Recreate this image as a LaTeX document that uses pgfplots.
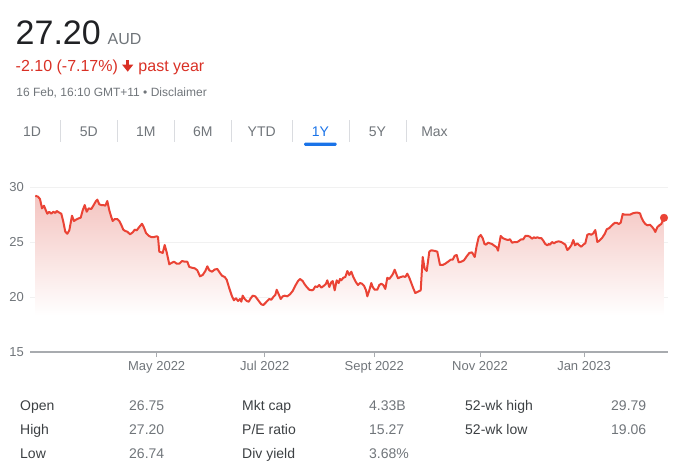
\documentclass[border=0pt]{standalone}
\usepackage{fontspec}
\setmainfont{Liberation Sans}
\usepackage{pgfplots}
\pgfplotsset{compat=1.18}
\usepackage{pgfplotstable}
\definecolor{darktext}{HTML}{202124}
\definecolor{labeltext}{HTML}{3C4043}
\definecolor{greytext}{HTML}{70757A}
\definecolor{redtext}{HTML}{D93025}
\definecolor{linered}{HTML}{EA4335}
\definecolor{fillred}{HTML}{F4C4C0}
\definecolor{tabblue}{HTML}{1A73E8}
\definecolor{sepgrey}{HTML}{DADCE0}
\definecolor{axisgrey}{HTML}{A8ABAF}
\definecolor{gridgrey}{HTML}{F1F1F1}

\pgfplotstableread{
x y
35.3 29.21
38 29.12
40 28.91
42 28.06
44 28.30
45.3 28.00
47.3 27.57
49.3 27.75
51.3 27.57
53.3 27.75
55.3 27.64
56.7 27.82
58.7 27.70
61.3 27.57
63.3 26.85
65.3 25.94
67.3 25.75
69.3 26.06
72 27.39
74 26.91
76 27.03
78.7 27.15
80.7 27.21
82.7 27.88
84.7 28.36
86.7 27.75
88.7 28.06
91.3 28.00
93.3 28.30
96 28.73
97.3 28.85
99.3 28.43
101.3 28.36
103.3 28.36
105.3 28.30
107.3 28.73
109.3 27.88
111.3 27.27
112.7 26.91
114.7 27.09
117.3 27.09
119.3 26.91
121.3 26.55
123.3 26.12
125.3 26.00
127.3 25.94
130 25.70
132.7 25.88
134.7 26.12
136.7 26.06
138.7 26.30
142 26.66
144 26.30
146 25.82
148.7 25.57
151.3 25.45
154 25.45
156.7 25.52
158 25.45
159.3 24.12
161.3 24.06
162.7 24.00
164.7 24.73
166.7 24.06
169.3 22.97
171.3 23.09
174 23.21
176.7 23.03
179.3 23.03
182 23.27
184.7 23.21
187.3 23.21
189.3 22.73
192 22.66
194.7 22.61
197.3 22.43
200 21.88
202.7 22.00
205.3 22.36
207.3 22.79
209.3 22.43
212 22.30
214.7 22.50
217.3 22.55
220 22.18
222 21.94
224.7 21.82
226.7 21.57
229.3 20.79
232 20.06
234 19.70
236 19.88
238 19.64
240 19.82
241.3 19.57
242.7 20.12
244.7 19.82
246.7 19.64
248.7 19.57
250.7 19.88
252.7 20.12
255.3 20.06
257.3 19.82
259.3 19.57
261.3 19.34
263.3 19.27
265.3 19.45
267.3 19.64
269.3 19.82
271.3 19.75
273.3 20.00
275.3 20.18
276.7 20.66
278.7 20.25
280.7 19.82
282.7 20.06
284.7 20.12
287.3 20.06
290 20.25
292.7 20.55
295.3 21.03
298 21.45
300 21.64
302.7 21.45
304.7 21.15
306.7 20.91
309.3 20.66
312 20.61
313.3 20.66
315.3 20.97
317.3 20.91
319.3 21.09
321.3 20.85
324 21.03
326 21.21
327.3 21.52
329.3 20.91
331.3 21.34
332.7 21.45
334.7 20.61
336.7 21.52
338.7 21.27
340 21.64
341.3 21.52
343.3 21.75
345.3 21.82
347.3 22.36
349.3 22.00
351.3 22.30
353.3 21.82
356 21.34
358 21.09
360 21.27
362 21.21
364 21.03
366 20.61
367.3 20.06
369.3 20.61
371.3 21.27
372.7 20.91
374.7 20.66
377.3 20.66
379.3 21.09
381.3 21.21
383.3 21.09
385.3 20.73
387.3 21.75
389.3 21.64
391.3 21.88
392.7 22.06
394.7 22.48
396.7 22.00
398 21.70
400.7 21.82
403.3 21.88
405.3 21.82
407.3 22.12
409.3 21.75
411.3 21.27
413.3 20.79
415.3 20.36
418 20.48
420.7 20.61
422.7 23.64
424.7 22.55
426.7 22.36
429.3 24.12
431.3 24.25
435.3 24.18
437.3 24.12
440 22.91
442.7 22.91
445.3 23.03
448 23.21
450.7 23.39
452.7 23.39
454.7 23.75
456.7 23.82
458.7 23.15
461.3 23.21
464 23.34
466.7 23.70
469.3 24.00
472 24.06
474.7 23.64
476.7 24.66
478.7 25.45
480.7 25.64
482.7 25.34
484.5 24.82
486 24.76
488 24.94
490 24.88
492 24.82
494.7 24.64
496.7 24.52
498 24.21
500.7 25.55
502.7 25.36
505.3 25.25
508 25.18
510 25.25
512 24.94
514.7 25.00
517.3 25.00
519.3 25.12
521.3 25.25
523.3 25.25
525.3 25.55
528 25.55
530 25.48
532 25.30
534 25.43
535.3 25.36
537.3 25.43
539.3 25.36
541.3 25.36
543.3 25.12
545.3 24.82
547.3 24.70
548.7 24.82
550 24.76
552 25.00
554 24.88
556 25.00
558.7 25.06
561.3 25.00
563.3 24.88
565.3 24.76
567.3 24.27
569.3 24.45
571.3 24.70
573.3 25.18
575 24.70
577.3 24.88
579.3 24.70
581.3 24.57
583.3 24.76
585.3 24.88
587.3 25.66
589.3 25.73
591.3 25.66
593.3 25.79
595.3 26.09
597.3 25.00
599.3 25.12
602 25.36
604.7 25.73
606.7 26.15
609.3 26.27
612 26.52
614.7 26.75
616.7 26.75
618.7 26.64
620.7 26.75
622.7 27.55
624.7 27.48
627.3 27.48
630 27.48
632.7 27.61
635.3 27.66
638 27.66
640 27.61
641.3 27.25
643.3 26.88
645.3 26.64
647.3 26.52
650 26.57
652 26.39
654 26.15
655.3 25.91
657.3 26.34
659.3 26.52
661.3 26.64
664 27.20
}\pricedata

\begin{document}
\begin{tikzpicture}
\path[use as bounding box] (0,0) rectangle (685bp,-474bp);

\begin{axis}[
  at={(30bp,-352bp)}, anchor=south west,
  scale only axis, width=638bp, height=165bp,
  xmin=30, xmax=668, ymin=15, ymax=30,
  axis x line*=bottom, axis y line*=left,
  y axis line style={draw=none},
  x axis line style={draw=axisgrey, line width=2bp},
  ytick={15,20,25,30},
  ytick style={draw=none},
  xtick={156.7,264.7,374.3,480,584},
  xticklabels={May 2022,Jul 2022,Sept 2022,Nov 2022,Jan 2023},
  xtick style={draw=axisgrey, line width=1bp},
  tick align=outside, major tick length=5bp,
  ymajorgrids, grid style={draw=gridgrey, line width=1bp},
  tick label style={font=\fontsize{13bp}{15bp}\selectfont, text=greytext},
  yticklabel style={inner sep=0pt, anchor=east, xshift=-1bp},
  xticklabel style={inner sep=0pt, anchor=north, text height=9.5bp, text depth=0pt, yshift=-3.5bp},
  /pgf/number format/assume math mode=true,
  clip=false,
]
\addplot[draw=none, top color=fillred, bottom color=white, forget plot] table {\pricedata}
  -- (axis cs:664,18.3) -- (axis cs:35.3,18.3) -- cycle;
\addplot[linered, line width=2bp, line join=round, no markers] table {\pricedata};
\addplot[only marks, mark=*, mark size=3.8bp, color=linered, fill=linered] coordinates {(664,27.20)};
\end{axis}

\begin{scope}[x=1bp,y=-1bp]
\node[anchor=base west, inner sep=0pt, font=\fontsize{34bp}{40bp}\selectfont, text=darktext] at (15.5,44.3) {27.20};
\node[anchor=base west, inner sep=0pt, font=\fontsize{16bp}{19bp}\selectfont, text=greytext] at (107.5,44.3) {AUD};
\node[anchor=base west, inner sep=0pt, font=\fontsize{16bp}{19bp}\selectfont, text=redtext] at (15.5,71.7) {-2.10 (-7.17\%)};
\fill[redtext] (126.2,60) rectangle (129.2,66);
\fill[redtext] (122,64.5) -- (133.4,64.5) -- (127.7,71.7) -- cycle;
\node[anchor=base west, inner sep=0pt, font=\fontsize{16bp}{19bp}\selectfont, text=redtext] at (138.3,71.7) {past year};
\node[anchor=base west, inner sep=0pt, font=\fontsize{12bp}{14bp}\selectfont, text=greytext] at (16.2,96.7) {16 Feb, 16:10 GMT+11 • Disclaimer};
% tabs
\foreach \x/\t in {32/1D, 88.7/5D, 145.8/1M, 202.8/6M, 261.7/YTD, 377.5/5Y, 434.5/Max}
  \node[anchor=base, inner sep=0pt, font=\fontsize{14bp}{16bp}\selectfont, text=greytext] at (\x,136) {\t};
\node[anchor=base, inner sep=0pt, font=\fontsize{14bp}{16bp}\selectfont, text=tabblue] at (320.5,136) {1Y};
\foreach \x in {60.3,117.3,174.3,231.3,292.3,349,406}
  \draw[sepgrey, line width=1bp] (\x,120) -- (\x,141.7);
\fill[tabblue, rounded corners=1.2bp] (304,142.7) rectangle (336.7,145.9);
% stats
\foreach \x/\y/\t in {20/410/Open, 20/434/High, 20/458/Low, 242/410/Mkt cap, 242/434/P\slash E ratio, 242/458/Div yield, 465/410/52-wk high, 465/434/52-wk low}
  \node[anchor=base west, inner sep=0pt, font=\fontsize{14bp}{16bp}\selectfont, text=labeltext] at (\x,\y) {\t};
\foreach \x/\y/\t in {129/410/26.75, 129/434/27.20, 129/458/26.74, 369/410/4.33B, 369/434/15.27, 369/458/3.68\%, 611/410/29.79, 611/434/19.06}
  \node[anchor=base west, inner sep=0pt, font=\fontsize{14bp}{16bp}\selectfont, text=greytext] at (\x,\y) {\t};
\end{scope}
\end{tikzpicture}
\end{document}
